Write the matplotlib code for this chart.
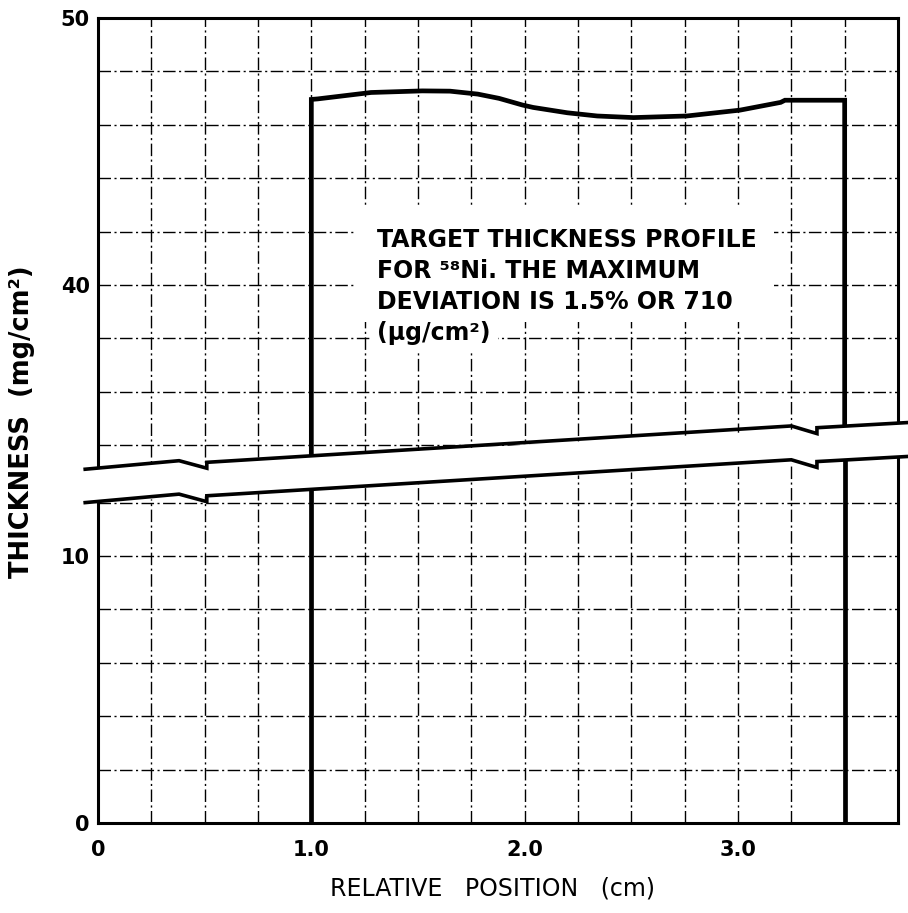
import numpy as np
import matplotlib
matplotlib.use('Agg')
import matplotlib.pyplot as plt
import matplotlib.transforms as mtransforms
from matplotlib.patches import Rectangle

# thickness profile (mg/cm^2)
profile_x = [1.0, 1.03, 1.28, 1.52, 1.65, 1.78, 1.88, 1.99, 2.04, 2.2, 2.34,
             2.51, 2.76, 3.01, 3.2, 3.22, 3.5]
profile_y = [46.95, 46.97, 47.21, 47.27, 47.26, 47.15, 46.99, 46.74, 46.65, 46.45, 46.33,
             46.27, 46.33, 46.55, 46.84, 46.92, 46.92]

x_ticks = [0, 1.0, 2.0, 3.0]
x_ticklabels = ['0', '1.0', '2.0', '3.0']
y_ticks_low = [0, 10]
y_ticks_high = [40, 50]

note_lines = ['TARGET THICKNESS PROFILE',
              'FOR \u2075\u2078Ni. THE MAXIMUM',
              'DEVIATION IS 1.5% OR 710',
              '(\u03bcg/cm\u00b2)']

# broken axis: lower part 0..~13, upper part ~33..50 shifted down by OFFSET
OFFSET = 19.85
X_MAX = 3.75
break_x = [-0.06, 3.80]
break_low = [12.0, 13.73]     # top edge of lower part
break_high = [33.1, 34.85]    # bottom edge of upper part
zig_x = [(0.38, 0.51), (3.25, 3.37)]


def break_path(ys):
    # slanted edge with the two little "z" break marks
    line = lambda x: np.interp(x, break_x, ys)
    xs, yv = [break_x[0]], [ys[0]]
    for a, b in zig_x:
        xs += [a, b, b]
        yv += [line(a) + 0.12, line(b) - 0.22, line(b)]
    xs.append(break_x[1])
    yv.append(ys[1])
    return xs, yv


fig = plt.figure(figsize=(9.08, 9.13), dpi=100)
ax = fig.add_axes([98 / 908, 1 - 823 / 913, 800 / 908, 805 / 913])
ax.set_xlim(0, X_MAX)
ax.set_ylim(0, 50 - OFFSET)

lo = ax.transData
hi = mtransforms.Affine2D().translate(0, -OFFSET) + ax.transData

grid_kw = dict(color='black', lw=1.0, linestyle=(0, (9, 2.5, 1.5, 2.5)), zorder=1)
for gx in np.arange(0.25, X_MAX, 0.25):
    ax.axvline(gx, **grid_kw)
ax.hlines(np.arange(2, 13, 2), 0, X_MAX, transform=lo, **grid_kw)
ax.hlines(np.arange(34, 50, 2), 0, X_MAX, transform=hi, **grid_kw)

# profile: flat-topped deposit between 1.0 and 3.5 cm
band_lo = np.interp([profile_x[0], profile_x[-1]], break_x, break_low)
band_hi = np.interp([profile_x[0], profile_x[-1]], break_x, np.array(break_high) - OFFSET)
band_mid = (band_lo + band_hi) / 2
prof_kw = dict(color='black', lw=3.4, solid_joinstyle='miter', zorder=2.6)
ax.plot([profile_x[0]] + profile_x + [profile_x[-1]],
        [band_mid[0] + OFFSET] + profile_y + [band_mid[1] + OFFSET],
        transform=hi, **prof_kw)
ax.vlines([profile_x[0], profile_x[-1]], 0, band_mid, transform=lo,
          color='black', lw=3.4, zorder=2.6)

# white gap of the axis break
ax.fill_between(break_x, break_low, np.array(break_high) - OFFSET,
                color='white', lw=0, zorder=3, clip_on=False)
for ys, tr in [(break_low, lo), (break_high, hi)]:
    bx, by = break_path(ys)
    ax.plot(bx, by, color='black', lw=2.6, transform=tr, clip_on=False,
            solid_joinstyle='miter', zorder=4)

for s in ax.spines.values():
    s.set_linewidth(2.2)
    s.set_zorder(2.5)

ax.set_xticks(x_ticks)
ax.set_xticklabels(x_ticklabels)
ax.set_yticks(y_ticks_low + [v - OFFSET for v in y_ticks_high])
ax.set_yticklabels([str(v) for v in y_ticks_low + y_ticks_high])
ax.tick_params(length=0, labelsize=15, pad=6)
for lab in ax.get_xticklabels() + ax.get_yticklabels():
    lab.set_fontweight('bold')
ax.tick_params(axis='x', pad=12)

# note block: the grid is left blank behind it
ax.add_patch(Rectangle((1.21, 38.6), 1.96, 4.3, transform=hi,
                       facecolor='white', edgecolor='none', zorder=4.5))
for i, line in enumerate(note_lines):
    t = ax.text(1.31, 41.42 - 1.16 * i, line, transform=hi, fontsize=17,
                fontweight='bold', ha='left', va='baseline', zorder=5)
    if i == len(note_lines) - 1:
        t.set_bbox(dict(facecolor='white', edgecolor='none', pad=5))

fig.text(22 / 908, 1 - 422 / 913, 'THICKNESS  (mg/cm\u00b2)', rotation=90,
         ha='center', va='center', fontsize=18.5, fontweight='bold')
fig.text(492 / 908, 1 - 888 / 913, 'RELATIVE   POSITION   (cm)',
         ha='center', va='center', fontsize=17)

fig.savefig('out.png', dpi=100)
